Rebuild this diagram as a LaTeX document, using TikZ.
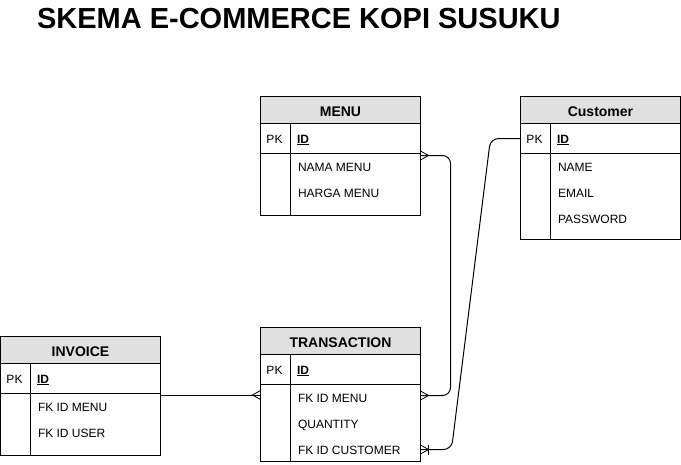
\documentclass[tikz,border=0pt]{standalone}
\usepackage{fontspec}
\setmainfont{Liberation Sans}
\usetikzlibrary{calc}
\definecolor{hdrgray}{HTML}{E0E0E0}
\tikzset{
  crow/.pic={\draw[line width=0.8pt] (0,-4.5) -- (8,0) -- (0,4.5);},
  crowbar/.pic={\draw[line width=0.8pt] (0,-4.5) -- (8,0) -- (0,4.5); \draw[line width=0.8pt] (8,-5) -- (8,5);}
}
\begin{document}
\begin{tikzpicture}[x=1pt,y=-1pt, line width=1pt,
  hdr/.style={draw, fill=hdrgray, minimum width=160pt, minimum height=27pt, inner sep=0pt, outer sep=0pt, anchor=north west},
  hdrt/.style={anchor=base, inner sep=0pt, font=\bfseries\fontsize{14}{16}\selectfont},
  cell/.style={draw, minimum width=160pt, inner sep=0pt, outer sep=0pt, anchor=north west},
  fld/.style={anchor=base west, inner sep=0pt, font=\fontsize{12}{14}\selectfont},
  pkl/.style={anchor=base, inner sep=0pt, font=\fontsize{12}{14}\selectfont},
  idl/.style={anchor=base west, inner sep=0pt, font=\bfseries\fontsize{12}{14}\selectfont},
  conn/.style={draw, line width=1pt, rounded corners=8pt}
]
\useasboundingbox (0,0) rectangle (681,464);

\node[anchor=base west, inner sep=0pt, font=\bfseries\fontsize{29}{32}\selectfont] (title) at (36.5,28) {SKEMA E-COMMERCE KOPI SUSUKU};

% MENU
\node[hdr] (menuH) at (260.5,96.5) {};
\node[hdrt] (menuHt) at ($(menuH.center)+(0,6.5)$) {MENU};
\node[cell, minimum height=30pt] (menuPK) at (menuH.south west) {};
\node[cell, minimum height=62pt] (menuB) at (menuPK.south west) {};
\draw ($(menuPK.north west)+(30,0)$) -- ($(menuB.south west)+(30,0)$);
\node[pkl] (menuPKt) at ($(menuPK.west)+(14,4.5)$) {PK};
\node[idl] (menuID) at ($(menuPK.west)+(36,4.5)$) {\underline{ID}};
\node[fld] (menuF1) at ($(menuB.north west)+(37,18)$) {NAMA MENU};
\node[fld] (menuF2) at ($(menuB.north west)+(37,44)$) {HARGA MENU};

% Customer
\node[hdr] (custH) at (520.5,96.5) {};
\node[hdrt] (custHt) at ($(custH.center)+(0,6.5)$) {Customer};
\node[cell, minimum height=30pt] (custPK) at (custH.south west) {};
\node[cell, minimum height=86pt] (custB) at (custPK.south west) {};
\draw ($(custPK.north west)+(30,0)$) -- ($(custB.south west)+(30,0)$);
\node[pkl] (custPKt) at ($(custPK.west)+(14,4.5)$) {PK};
\node[idl] (custID) at ($(custPK.west)+(36,4.5)$) {\underline{ID}};
\node[fld] (custF1) at ($(custB.north west)+(37,18)$) {NAME};
\node[fld] (custF2) at ($(custB.north west)+(37,44)$) {EMAIL};
\node[fld] (custF3) at ($(custB.north west)+(37,70)$) {PASSWORD};

% INVOICE
\node[hdr] (invH) at (0.5,336.5) {};
\node[hdrt] (invHt) at ($(invH.center)+(0,6.5)$) {INVOICE};
\node[cell, minimum height=30pt] (invPK) at (invH.south west) {};
\node[cell, minimum height=62pt] (invB) at (invPK.south west) {};
\draw ($(invPK.north west)+(30,0)$) -- ($(invB.south west)+(30,0)$);
\node[pkl] (invPKt) at ($(invPK.west)+(14,4.5)$) {PK};
\node[idl] (invID) at ($(invPK.west)+(36,4.5)$) {\underline{ID}};
\node[fld] (invF1) at ($(invB.north west)+(37,18.3)$) {FK ID MENU};
\node[fld] (invF2) at ($(invB.north west)+(37,44.3)$) {FK ID USER};

% TRANSACTION
\node[hdr] (trH) at (260.5,327.5) {};
\node[hdrt] (trHt) at ($(trH.center)+(0,6.5)$) {TRANSACTION};
\node[cell, minimum height=30pt] (trPK) at (trH.south west) {};
\node[cell, minimum height=77pt] (trB) at (trPK.south west) {};
\draw ($(trPK.north west)+(30,0)$) -- ($(trB.south west)+(30,0)$);
\node[pkl] (trPKt) at ($(trPK.west)+(14,4.5)$) {PK};
\node[idl] (trID) at ($(trPK.west)+(36,4.5)$) {\underline{ID}};
\node[fld] (trF1) at ($(trB.north west)+(37,18.3)$) {FK ID MENU};
\node[fld] (trF2) at ($(trB.north west)+(37,44.3)$) {QUANTITY};
\node[fld] (trF3) at ($(trB.north west)+(37,70.3)$) {FK ID CUSTOMER};

% connectors
\coordinate (m1) at ($(menuB.north east)+(0,2)$);
\coordinate (t1) at ($(trB.north east)+(0,11)$);
\draw[conn] (m1) -- ++(30,0) |- (t1);
\pic at (m1) {crow};
\pic at (t1) {crow};

\coordinate (c1) at (custPK.west);
\coordinate (t3) at ($(trB.north east)+(0,65)$);
\draw[conn] (c1) -- ++(-30,0) -- ($(t3)+(31,0)$) -- (t3);
\pic at (t3) {crowbar};

\coordinate (i1) at ($(invB.north east)+(0,1.5)$);
\coordinate (t0) at (i1 -| trB.west);
\draw[conn] (i1) -- (t0);
\pic[rotate=180] at (t0) {crow};
\end{tikzpicture}
\end{document}
